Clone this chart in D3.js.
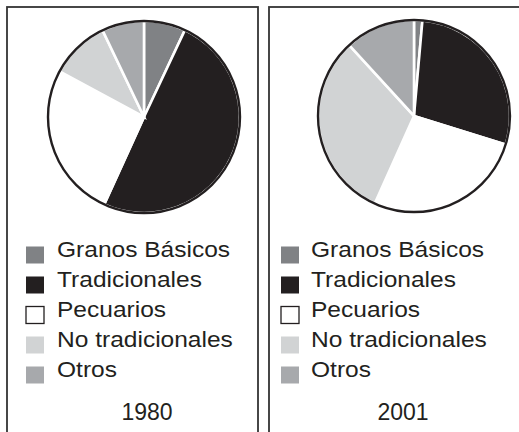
<!DOCTYPE html>
<html>
<head>
<meta charset="utf-8">
<script src="https://cdn.jsdelivr.net/npm/d3@7"></script>
<style>
  html, body { margin: 0; padding: 0; background: #fff; }
  svg { display: block; }
  text { font-family: "Liberation Sans", Arial, Helvetica, sans-serif; fill: #231f20; }
</style>
</head>
<body>
<svg id="chart" width="519" height="432"></svg>
<script>
const categories = ["Granos Básicos", "Tradicionales", "Pecuarios", "No tradicionales", "Otros"];
const colors = ["#808285", "#231f20", "#ffffff", "#d1d3d4", "#a7a9ac"];
const years = ["1980", "2001"];
const values1980 = [7.0, 49.8, 26.1, 10.0, 7.1];
const values2001 = [1.4, 28.4, 26.9, 31.5, 11.8];

const panels = [
  { year: years[0], values: values1980, x0: 7, x1: 258, cx: 144, cy: 117, legX: 26, textX: 57, yearX: 147 },
  { year: years[1], values: values2001, x0: 269, x1: 530, cx: 414, cy: 116, legX: 281, textX: 311, yearX: 403 }
];

const svg = d3.select("#chart");
const r = 96;
const pie = d3.pie().sort(null).value(d => d);
const arc = d3.arc().innerRadius(0).outerRadius(r);
const color = d3.scaleOrdinal().domain(categories).range(colors);
const rowY = d3.scalePoint().domain(categories).range([257, 377]);

panels.forEach(p => {
  svg.append("rect")
    .attr("x", p.x0).attr("y", 7)
    .attr("width", p.x1 - p.x0).attr("height", 440)
    .attr("fill", "none").attr("stroke", "#333333").attr("stroke-width", 1.8);

  const g = svg.append("g").attr("transform", `translate(${p.cx},${p.cy})`);
  g.selectAll("path.slice")
    .data(pie(p.values))
    .join("path")
    .attr("class", "slice")
    .attr("d", arc)
    .attr("fill", (d, i) => color(categories[i]))
    .attr("stroke", "#ffffff")
    .attr("stroke-width", 2.6)
    .attr("stroke-linejoin", "miter");
  g.append("circle")
    .attr("r", r).attr("fill", "none")
    .attr("stroke", "#231f20").attr("stroke-width", 2.4);

  const leg = svg.append("g");
  const rows = leg.selectAll("g.row").data(categories).join("g").attr("class", "row");
  rows.append("rect")
    .attr("x", p.legX)
    .attr("y", d => rowY(d) - 10.5)
    .attr("width", 18).attr("height", 17)
    .attr("fill", d => color(d))
    .attr("stroke", d => d === "Pecuarios" ? "#231f20" : "none")
    .attr("stroke-width", 1.3);
  rows.append("text")
    .attr("transform", d => `translate(${p.textX},${rowY(d)}) scale(1.1,1)`)
    .attr("font-size", 22.3)
    .text(d => d);

  svg.append("text")
    .attr("x", p.yearX).attr("y", 420)
    .attr("text-anchor", "middle")
    .attr("font-size", 23)
    .text(p.year);
});
</script>
</body>
</html>
